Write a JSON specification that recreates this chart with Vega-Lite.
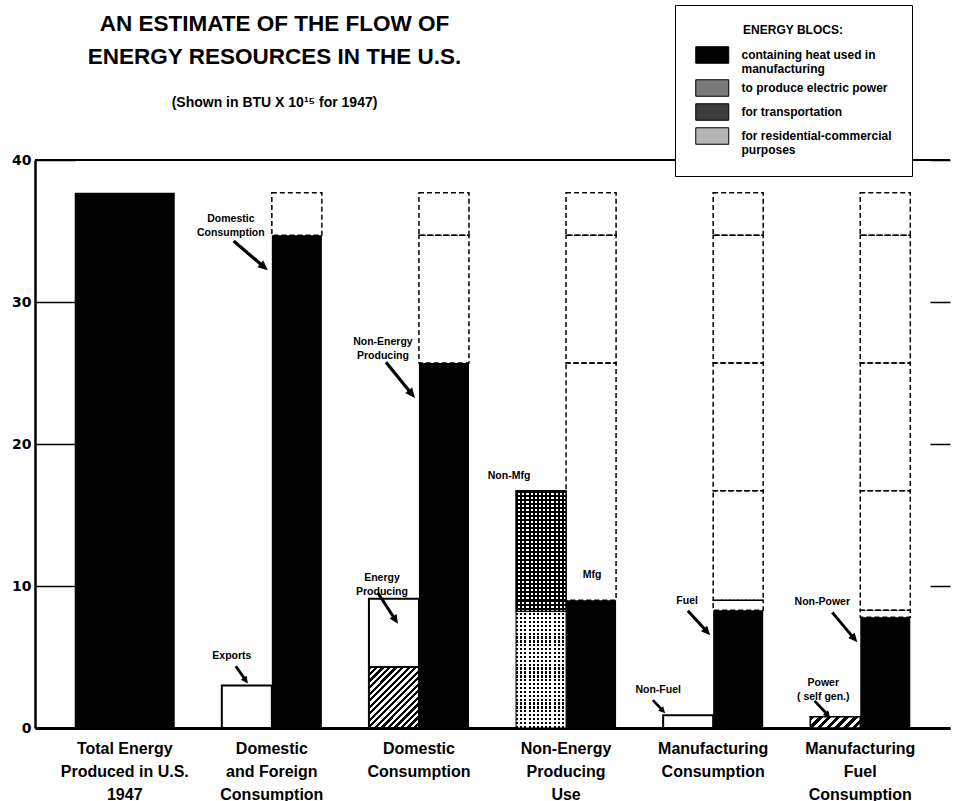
{
"$schema": "https://vega.github.io/schema/vega-lite/v6.json",
"width": 915, "height": 568,
"autosize": {"type": "none"},
"padding": {"left": 35, "top": 160, "right": 5, "bottom": 73},
"background": "white",
"title": {"text": ["AN ESTIMATE OF THE FLOW OF", "ENERGY RESOURCES IN THE U.S."], "subtitle": "(Shown in BTU X 10¹⁵ for 1947)", "anchor": "start", "align": "center", "dx": 263, "offset": -105, "font": "Liberation Sans", "fontSize": 22.5, "fontWeight": "bold", "lineHeight": 33, "color": "black", "subtitleFont": "Liberation Sans", "subtitleFontSize": 14, "subtitleFontWeight": "bold", "subtitleColor": "black", "subtitlePadding": 27},
"config": {
  "view": {"stroke": null},
  "font": "Liberation Sans",
  "text": {"font": "Liberation Sans", "fontWeight": "bold", "fontSize": 10.5, "lineHeight": 14, "baseline": "middle", "align": "center", "lineBreak": "|", "color": "black"},
  "axisX": {"domainColor": "black", "domainWidth": 3, "ticks": false, "labelFont": "Liberation Sans", "labelFontSize": 16, "labelFontWeight": "bold", "labelColor": "black", "labelPadding": 12, "labelAngle": 0, "labelLineHeight": 23, "labelBaseline": "top", "grid": false, "labelLimit": 300},
  "axisY": {"domainColor": "black", "domainWidth": 2.5, "ticks": false, "labelFont": "DejaVu Sans", "labelFontSize": 14, "labelFontWeight": "bold", "labelColor": "black", "labelPadding": 4, "grid": true, "gridColor": "black", "gridWidth": 1.5, "gridDash": [40, 855, 20]}
},
"data": {"values": [
  {"group": "Total Energy|Produced in U.S.|1947", "sub": "L", "kind": "total", "y0": 0, "y1": 37.7},
  {"group": "Domestic|and Foreign|Consumption", "sub": "L", "kind": "white", "y0": 0, "y1": 3.0, "label": "Exports"},
  {"group": "Domestic|and Foreign|Consumption", "sub": "R", "kind": "heat", "y0": 0, "y1": 34.7, "label": "Domestic|Consumption"},
  {"group": "Domestic|and Foreign|Consumption", "sub": "R", "kind": "ghost", "y0": 34.7, "y1": 37.7},
  {"group": "Domestic|Consumption", "sub": "L", "kind": "electric", "y0": 0, "y1": 4.3},
  {"group": "Domestic|Consumption", "sub": "L", "kind": "white", "y0": 4.3, "y1": 9.1, "label": "Energy|Producing"},
  {"group": "Domestic|Consumption", "sub": "R", "kind": "heat", "y0": 0, "y1": 25.7, "label": "Non-Energy|Producing"},
  {"group": "Domestic|Consumption", "sub": "R", "kind": "ghost", "y0": 25.7, "y1": 34.7},
  {"group": "Domestic|Consumption", "sub": "R", "kind": "ghost", "y0": 34.7, "y1": 37.7},
  {"group": "Non-Energy|Producing|Use", "sub": "L", "kind": "residential", "y0": 0, "y1": 8.2},
  {"group": "Non-Energy|Producing|Use", "sub": "L", "kind": "transport", "y0": 8.2, "y1": 16.7, "label": "Non-Mfg"},
  {"group": "Non-Energy|Producing|Use", "sub": "R", "kind": "heat", "y0": 0, "y1": 9.0, "label": "Mfg"},
  {"group": "Non-Energy|Producing|Use", "sub": "R", "kind": "ghost", "y0": 9.0, "y1": 25.7},
  {"group": "Non-Energy|Producing|Use", "sub": "R", "kind": "ghost", "y0": 25.7, "y1": 34.7},
  {"group": "Non-Energy|Producing|Use", "sub": "R", "kind": "ghost", "y0": 34.7, "y1": 37.7},
  {"group": "Manufacturing|Consumption", "sub": "L", "kind": "white", "y0": 0, "y1": 0.9, "label": "Non-Fuel"},
  {"group": "Manufacturing|Consumption", "sub": "R", "kind": "heat", "y0": 0, "y1": 8.3, "label": "Fuel"},
  {"group": "Manufacturing|Consumption", "sub": "R", "kind": "ghost", "y0": 8.3, "y1": 9.0},
  {"group": "Manufacturing|Consumption", "sub": "R", "kind": "ghost", "y0": 9.0, "y1": 16.7},
  {"group": "Manufacturing|Consumption", "sub": "R", "kind": "ghost", "y0": 16.7, "y1": 25.7},
  {"group": "Manufacturing|Consumption", "sub": "R", "kind": "ghost", "y0": 25.7, "y1": 34.7},
  {"group": "Manufacturing|Consumption", "sub": "R", "kind": "ghost", "y0": 34.7, "y1": 37.7},
  {"group": "Manufacturing|Fuel|Consumption", "sub": "L", "kind": "electric", "y0": 0, "y1": 0.8, "label": "Power|( self gen.)"},
  {"group": "Manufacturing|Fuel|Consumption", "sub": "R", "kind": "heat", "y0": 0, "y1": 7.8, "label": "Non-Power"},
  {"group": "Manufacturing|Fuel|Consumption", "sub": "R", "kind": "ghost", "y0": 7.8, "y1": 8.3},
  {"group": "Manufacturing|Fuel|Consumption", "sub": "R", "kind": "ghost", "y0": 8.3, "y1": 16.7},
  {"group": "Manufacturing|Fuel|Consumption", "sub": "R", "kind": "ghost", "y0": 16.7, "y1": 25.7},
  {"group": "Manufacturing|Fuel|Consumption", "sub": "R", "kind": "ghost", "y0": 25.7, "y1": 34.7},
  {"group": "Manufacturing|Fuel|Consumption", "sub": "R", "kind": "ghost", "y0": 34.7, "y1": 37.7}
]},
"encoding": {
  "y": {"field": "y1", "type": "quantitative", "title": null, "scale": {"domain": [0, 40], "nice": false}, "axis": {"values": [0, 10, 20, 30, 40]}}
},
"layer": [
  {"transform": [{"filter": "datum.kind == 'total'"}], "mark": {"type": "bar", "color": "black"},
   "encoding": {"x": {"field": "group", "type": "nominal", "title": null, "scale": {"domain": ["Total Energy|Produced in U.S.|1947", "Domestic|and Foreign|Consumption", "Domestic|Consumption", "Non-Energy|Producing|Use", "Manufacturing|Consumption", "Manufacturing|Fuel|Consumption"], "paddingInner": 0.32, "paddingOuter": 0.27}, "axis": {"labelExpr": "split(datum.label, '|')"}}, "y2": {"field": "y0"}}},
  {"mark": {"type": "rule", "color": "black", "strokeWidth": 2}, "encoding": {"y": {"datum": 40}}},
  {"encoding": {"x": {"field": "group", "type": "nominal", "title": null}, "xOffset": {"field": "sub", "type": "nominal", "scale": {"domain": ["L", "R"], "paddingInner": 0, "paddingOuter": 0}}},
   "layer": [
    {"transform": [{"filter": "datum.kind == 'ghost'"}], "mark": {"type": "bar", "filled": false, "stroke": "black", "strokeWidth": 1.5, "strokeDash": [5, 3]}, "encoding": {"y2": {"field": "y0"}}},
    {"transform": [{"filter": "indexof(['heat','electric','transport','residential'], datum.kind) >= 0"}], "mark": {"type": "bar"},
     "encoding": {"y2": {"field": "y0"},
      "fill": {"field": "kind", "type": "nominal", "scale": {"domain": ["heat", "electric", "transport", "residential"], "range": ["black", "#7a7a7a", "#3c3c3c", "#b4b4b4"]},
       "legend": {"orient": "none", "legendX": 640, "legendY": -155, "title": "ENERGY BLOCS:", "titleFont": "Liberation Sans", "titleFontSize": 12, "titleFontWeight": "bold", "titleColor": "black", "titleAnchor": "middle", "titlePadding": 9,
        "symbolType": "M-1,-1H3V1H-1Z", "symbolSize": 272.25, "symbolStrokeColor": "black", "symbolStrokeWidth": 1, "symbolOpacity": 1,
        "labelFont": "Liberation Sans", "labelFontSize": 12, "labelFontWeight": "bold", "labelColor": "black", "labelOffset": 28.5, "labelLimit": 400,
        "labelExpr": "datum.value == 'heat' ? ['containing heat used in', 'manufacturing'] : datum.value == 'electric' ? 'to produce electric power' : datum.value == 'transport' ? 'for transportation' : ['for residential-commercial', 'purposes']",
        "rowPadding": 2, "padding": 20, "strokeColor": "black", "fillColor": "white"}}}},
    {"transform": [{"filter": "datum.kind == 'white'"}], "mark": {"type": "bar", "fill": "white", "stroke": "black", "strokeWidth": 2}, "encoding": {"y2": {"field": "y0"}}},
    {"transform": [{"filter": "datum.kind == 'electric' && datum.y1 > 2"}], "mark": {"type": "bar", "stroke": "black", "strokeWidth": 2, "fill": {"gradient": "linear", "x1": 0, "y1": 0, "x2": 0.892, "y2": 1.088, "stops": [
      {"offset": 0, "color": "#000"}, {"offset": 0.0294, "color": "#000"}, {"offset": 0.0294, "color": "#fff"}, {"offset": 0.0588, "color": "#fff"},
      {"offset": 0.0588, "color": "#000"}, {"offset": 0.0882, "color": "#000"}, {"offset": 0.0882, "color": "#fff"}, {"offset": 0.1176, "color": "#fff"},
      {"offset": 0.1176, "color": "#000"}, {"offset": 0.1471, "color": "#000"}, {"offset": 0.1471, "color": "#fff"}, {"offset": 0.1765, "color": "#fff"},
      {"offset": 0.1765, "color": "#000"}, {"offset": 0.2059, "color": "#000"}, {"offset": 0.2059, "color": "#fff"}, {"offset": 0.2353, "color": "#fff"},
      {"offset": 0.2353, "color": "#000"}, {"offset": 0.2647, "color": "#000"}, {"offset": 0.2647, "color": "#fff"}, {"offset": 0.2941, "color": "#fff"},
      {"offset": 0.2941, "color": "#000"}, {"offset": 0.3235, "color": "#000"}, {"offset": 0.3235, "color": "#fff"}, {"offset": 0.3529, "color": "#fff"},
      {"offset": 0.3529, "color": "#000"}, {"offset": 0.3824, "color": "#000"}, {"offset": 0.3824, "color": "#fff"}, {"offset": 0.4118, "color": "#fff"},
      {"offset": 0.4118, "color": "#000"}, {"offset": 0.4412, "color": "#000"}, {"offset": 0.4412, "color": "#fff"}, {"offset": 0.4706, "color": "#fff"},
      {"offset": 0.4706, "color": "#000"}, {"offset": 0.5, "color": "#000"}, {"offset": 0.5, "color": "#fff"}, {"offset": 0.5294, "color": "#fff"},
      {"offset": 0.5294, "color": "#000"}, {"offset": 0.5588, "color": "#000"}, {"offset": 0.5588, "color": "#fff"}, {"offset": 0.5882, "color": "#fff"},
      {"offset": 0.5882, "color": "#000"}, {"offset": 0.6176, "color": "#000"}, {"offset": 0.6176, "color": "#fff"}, {"offset": 0.6471, "color": "#fff"},
      {"offset": 0.6471, "color": "#000"}, {"offset": 0.6765, "color": "#000"}, {"offset": 0.6765, "color": "#fff"}, {"offset": 0.7059, "color": "#fff"},
      {"offset": 0.7059, "color": "#000"}, {"offset": 0.7353, "color": "#000"}, {"offset": 0.7353, "color": "#fff"}, {"offset": 0.7647, "color": "#fff"},
      {"offset": 0.7647, "color": "#000"}, {"offset": 0.7941, "color": "#000"}, {"offset": 0.7941, "color": "#fff"}, {"offset": 0.8235, "color": "#fff"},
      {"offset": 0.8235, "color": "#000"}, {"offset": 0.8529, "color": "#000"}, {"offset": 0.8529, "color": "#fff"}, {"offset": 0.8824, "color": "#fff"},
      {"offset": 0.8824, "color": "#000"}, {"offset": 0.9118, "color": "#000"}, {"offset": 0.9118, "color": "#fff"}, {"offset": 0.9412, "color": "#fff"},
      {"offset": 0.9412, "color": "#000"}, {"offset": 0.9706, "color": "#000"}, {"offset": 0.9706, "color": "#fff"}, {"offset": 1, "color": "#fff"}]}}, "encoding": {"y2": {"field": "y0"}}},
    {"transform": [{"filter": "datum.kind == 'electric' && datum.y1 <= 2"}], "mark": {"type": "bar", "stroke": "black", "strokeWidth": 1.5, "fill": {"gradient": "linear", "x1": 0, "y1": 0, "x2": 1.167, "y2": 0.266, "stops": [
      {"offset": 0, "color": "#000"}, {"offset": 0.0714, "color": "#000"}, {"offset": 0.0714, "color": "#fff"}, {"offset": 0.1429, "color": "#fff"},
      {"offset": 0.1429, "color": "#000"}, {"offset": 0.2143, "color": "#000"}, {"offset": 0.2143, "color": "#fff"}, {"offset": 0.2857, "color": "#fff"},
      {"offset": 0.2857, "color": "#000"}, {"offset": 0.3571, "color": "#000"}, {"offset": 0.3571, "color": "#fff"}, {"offset": 0.4286, "color": "#fff"},
      {"offset": 0.4286, "color": "#000"}, {"offset": 0.5, "color": "#000"}, {"offset": 0.5, "color": "#fff"}, {"offset": 0.5714, "color": "#fff"},
      {"offset": 0.5714, "color": "#000"}, {"offset": 0.6429, "color": "#000"}, {"offset": 0.6429, "color": "#fff"}, {"offset": 0.7143, "color": "#fff"},
      {"offset": 0.7143, "color": "#000"}, {"offset": 0.7857, "color": "#000"}, {"offset": 0.7857, "color": "#fff"}, {"offset": 0.8571, "color": "#fff"},
      {"offset": 0.8571, "color": "#000"}, {"offset": 0.9286, "color": "#000"}, {"offset": 0.9286, "color": "#fff"}, {"offset": 1, "color": "#fff"}]}}, "encoding": {"y2": {"field": "y0"}}},
    {"transform": [{"filter": "datum.kind == 'transport' || datum.kind == 'residential'"}], "mark": {"type": "bar", "fill": {"gradient": "linear", "x1": 0, "y1": 0, "x2": 1, "y2": 0, "stops": [
      {"offset": 0, "color": "#000"}, {"offset": 0.0417, "color": "#000"}, {"offset": 0.0417, "color": "#fff"}, {"offset": 0.0833, "color": "#fff"},
      {"offset": 0.0833, "color": "#000"}, {"offset": 0.125, "color": "#000"}, {"offset": 0.125, "color": "#fff"}, {"offset": 0.1667, "color": "#fff"},
      {"offset": 0.1667, "color": "#000"}, {"offset": 0.2083, "color": "#000"}, {"offset": 0.2083, "color": "#fff"}, {"offset": 0.25, "color": "#fff"},
      {"offset": 0.25, "color": "#000"}, {"offset": 0.2917, "color": "#000"}, {"offset": 0.2917, "color": "#fff"}, {"offset": 0.3333, "color": "#fff"},
      {"offset": 0.3333, "color": "#000"}, {"offset": 0.375, "color": "#000"}, {"offset": 0.375, "color": "#fff"}, {"offset": 0.4167, "color": "#fff"},
      {"offset": 0.4167, "color": "#000"}, {"offset": 0.4583, "color": "#000"}, {"offset": 0.4583, "color": "#fff"}, {"offset": 0.5, "color": "#fff"},
      {"offset": 0.5, "color": "#000"}, {"offset": 0.5417, "color": "#000"}, {"offset": 0.5417, "color": "#fff"}, {"offset": 0.5833, "color": "#fff"},
      {"offset": 0.5833, "color": "#000"}, {"offset": 0.625, "color": "#000"}, {"offset": 0.625, "color": "#fff"}, {"offset": 0.6667, "color": "#fff"},
      {"offset": 0.6667, "color": "#000"}, {"offset": 0.7083, "color": "#000"}, {"offset": 0.7083, "color": "#fff"}, {"offset": 0.75, "color": "#fff"},
      {"offset": 0.75, "color": "#000"}, {"offset": 0.7917, "color": "#000"}, {"offset": 0.7917, "color": "#fff"}, {"offset": 0.8333, "color": "#fff"},
      {"offset": 0.8333, "color": "#000"}, {"offset": 0.875, "color": "#000"}, {"offset": 0.875, "color": "#fff"}, {"offset": 0.9167, "color": "#fff"},
      {"offset": 0.9167, "color": "#000"}, {"offset": 0.9583, "color": "#000"}, {"offset": 0.9583, "color": "#fff"}, {"offset": 1, "color": "#fff"}]}}, "encoding": {"y2": {"field": "y0"}}},
    {"transform": [{"filter": "datum.kind == 'transport'"}], "mark": {"type": "bar", "stroke": "black", "strokeWidth": 1.5, "fill": {"gradient": "linear", "x1": 0, "y1": 0, "x2": 0, "y2": 1, "stops": [
      {"offset": 0, "color": "#000"}, {"offset": 0.0167, "color": "#000"}, {"offset": 0.0167, "color": "transparent"}, {"offset": 0.0333, "color": "transparent"},
      {"offset": 0.0333, "color": "#000"}, {"offset": 0.05, "color": "#000"}, {"offset": 0.05, "color": "transparent"}, {"offset": 0.0667, "color": "transparent"},
      {"offset": 0.0667, "color": "#000"}, {"offset": 0.0833, "color": "#000"}, {"offset": 0.0833, "color": "transparent"}, {"offset": 0.1, "color": "transparent"},
      {"offset": 0.1, "color": "#000"}, {"offset": 0.1167, "color": "#000"}, {"offset": 0.1167, "color": "transparent"}, {"offset": 0.1333, "color": "transparent"},
      {"offset": 0.1333, "color": "#000"}, {"offset": 0.15, "color": "#000"}, {"offset": 0.15, "color": "transparent"}, {"offset": 0.1667, "color": "transparent"},
      {"offset": 0.1667, "color": "#000"}, {"offset": 0.1833, "color": "#000"}, {"offset": 0.1833, "color": "transparent"}, {"offset": 0.2, "color": "transparent"},
      {"offset": 0.2, "color": "#000"}, {"offset": 0.2167, "color": "#000"}, {"offset": 0.2167, "color": "transparent"}, {"offset": 0.2333, "color": "transparent"},
      {"offset": 0.2333, "color": "#000"}, {"offset": 0.25, "color": "#000"}, {"offset": 0.25, "color": "transparent"}, {"offset": 0.2667, "color": "transparent"},
      {"offset": 0.2667, "color": "#000"}, {"offset": 0.2833, "color": "#000"}, {"offset": 0.2833, "color": "transparent"}, {"offset": 0.3, "color": "transparent"},
      {"offset": 0.3, "color": "#000"}, {"offset": 0.3167, "color": "#000"}, {"offset": 0.3167, "color": "transparent"}, {"offset": 0.3333, "color": "transparent"},
      {"offset": 0.3333, "color": "#000"}, {"offset": 0.35, "color": "#000"}, {"offset": 0.35, "color": "transparent"}, {"offset": 0.3667, "color": "transparent"},
      {"offset": 0.3667, "color": "#000"}, {"offset": 0.3833, "color": "#000"}, {"offset": 0.3833, "color": "transparent"}, {"offset": 0.4, "color": "transparent"},
      {"offset": 0.4, "color": "#000"}, {"offset": 0.4167, "color": "#000"}, {"offset": 0.4167, "color": "transparent"}, {"offset": 0.4333, "color": "transparent"},
      {"offset": 0.4333, "color": "#000"}, {"offset": 0.45, "color": "#000"}, {"offset": 0.45, "color": "transparent"}, {"offset": 0.4667, "color": "transparent"},
      {"offset": 0.4667, "color": "#000"}, {"offset": 0.4833, "color": "#000"}, {"offset": 0.4833, "color": "transparent"}, {"offset": 0.5, "color": "transparent"},
      {"offset": 0.5, "color": "#000"}, {"offset": 0.5167, "color": "#000"}, {"offset": 0.5167, "color": "transparent"}, {"offset": 0.5333, "color": "transparent"},
      {"offset": 0.5333, "color": "#000"}, {"offset": 0.55, "color": "#000"}, {"offset": 0.55, "color": "transparent"}, {"offset": 0.5667, "color": "transparent"},
      {"offset": 0.5667, "color": "#000"}, {"offset": 0.5833, "color": "#000"}, {"offset": 0.5833, "color": "transparent"}, {"offset": 0.6, "color": "transparent"},
      {"offset": 0.6, "color": "#000"}, {"offset": 0.6167, "color": "#000"}, {"offset": 0.6167, "color": "transparent"}, {"offset": 0.6333, "color": "transparent"},
      {"offset": 0.6333, "color": "#000"}, {"offset": 0.65, "color": "#000"}, {"offset": 0.65, "color": "transparent"}, {"offset": 0.6667, "color": "transparent"},
      {"offset": 0.6667, "color": "#000"}, {"offset": 0.6833, "color": "#000"}, {"offset": 0.6833, "color": "transparent"}, {"offset": 0.7, "color": "transparent"},
      {"offset": 0.7, "color": "#000"}, {"offset": 0.7167, "color": "#000"}, {"offset": 0.7167, "color": "transparent"}, {"offset": 0.7333, "color": "transparent"},
      {"offset": 0.7333, "color": "#000"}, {"offset": 0.75, "color": "#000"}, {"offset": 0.75, "color": "transparent"}, {"offset": 0.7667, "color": "transparent"},
      {"offset": 0.7667, "color": "#000"}, {"offset": 0.7833, "color": "#000"}, {"offset": 0.7833, "color": "transparent"}, {"offset": 0.8, "color": "transparent"},
      {"offset": 0.8, "color": "#000"}, {"offset": 0.8167, "color": "#000"}, {"offset": 0.8167, "color": "transparent"}, {"offset": 0.8333, "color": "transparent"},
      {"offset": 0.8333, "color": "#000"}, {"offset": 0.85, "color": "#000"}, {"offset": 0.85, "color": "transparent"}, {"offset": 0.8667, "color": "transparent"},
      {"offset": 0.8667, "color": "#000"}, {"offset": 0.8833, "color": "#000"}, {"offset": 0.8833, "color": "transparent"}, {"offset": 0.9, "color": "transparent"},
      {"offset": 0.9, "color": "#000"}, {"offset": 0.9167, "color": "#000"}, {"offset": 0.9167, "color": "transparent"}, {"offset": 0.9333, "color": "transparent"},
      {"offset": 0.9333, "color": "#000"}, {"offset": 0.95, "color": "#000"}, {"offset": 0.95, "color": "transparent"}, {"offset": 0.9667, "color": "transparent"},
      {"offset": 0.9667, "color": "#000"}, {"offset": 0.9833, "color": "#000"}, {"offset": 0.9833, "color": "transparent"}, {"offset": 1, "color": "transparent"}]}}, "encoding": {"y2": {"field": "y0"}}},
    {"transform": [{"filter": "datum.kind == 'residential'"}], "mark": {"type": "bar", "stroke": "black", "strokeWidth": 1, "fill": {"gradient": "linear", "x1": 0, "y1": 0, "x2": 0, "y2": 1, "stops": [
      {"offset": 0, "color": "#fff"}, {"offset": 0.0133, "color": "#fff"}, {"offset": 0.0133, "color": "transparent"}, {"offset": 0.0333, "color": "transparent"},
      {"offset": 0.0333, "color": "#fff"}, {"offset": 0.0467, "color": "#fff"}, {"offset": 0.0467, "color": "transparent"}, {"offset": 0.0667, "color": "transparent"},
      {"offset": 0.0667, "color": "#fff"}, {"offset": 0.08, "color": "#fff"}, {"offset": 0.08, "color": "transparent"}, {"offset": 0.1, "color": "transparent"},
      {"offset": 0.1, "color": "#fff"}, {"offset": 0.1133, "color": "#fff"}, {"offset": 0.1133, "color": "transparent"}, {"offset": 0.1333, "color": "transparent"},
      {"offset": 0.1333, "color": "#fff"}, {"offset": 0.1467, "color": "#fff"}, {"offset": 0.1467, "color": "transparent"}, {"offset": 0.1667, "color": "transparent"},
      {"offset": 0.1667, "color": "#fff"}, {"offset": 0.18, "color": "#fff"}, {"offset": 0.18, "color": "transparent"}, {"offset": 0.2, "color": "transparent"},
      {"offset": 0.2, "color": "#fff"}, {"offset": 0.2133, "color": "#fff"}, {"offset": 0.2133, "color": "transparent"}, {"offset": 0.2333, "color": "transparent"},
      {"offset": 0.2333, "color": "#fff"}, {"offset": 0.2467, "color": "#fff"}, {"offset": 0.2467, "color": "transparent"}, {"offset": 0.2667, "color": "transparent"},
      {"offset": 0.2667, "color": "#fff"}, {"offset": 0.28, "color": "#fff"}, {"offset": 0.28, "color": "transparent"}, {"offset": 0.3, "color": "transparent"},
      {"offset": 0.3, "color": "#fff"}, {"offset": 0.3133, "color": "#fff"}, {"offset": 0.3133, "color": "transparent"}, {"offset": 0.3333, "color": "transparent"},
      {"offset": 0.3333, "color": "#fff"}, {"offset": 0.3467, "color": "#fff"}, {"offset": 0.3467, "color": "transparent"}, {"offset": 0.3667, "color": "transparent"},
      {"offset": 0.3667, "color": "#fff"}, {"offset": 0.38, "color": "#fff"}, {"offset": 0.38, "color": "transparent"}, {"offset": 0.4, "color": "transparent"},
      {"offset": 0.4, "color": "#fff"}, {"offset": 0.4133, "color": "#fff"}, {"offset": 0.4133, "color": "transparent"}, {"offset": 0.4333, "color": "transparent"},
      {"offset": 0.4333, "color": "#fff"}, {"offset": 0.4467, "color": "#fff"}, {"offset": 0.4467, "color": "transparent"}, {"offset": 0.4667, "color": "transparent"},
      {"offset": 0.4667, "color": "#fff"}, {"offset": 0.48, "color": "#fff"}, {"offset": 0.48, "color": "transparent"}, {"offset": 0.5, "color": "transparent"},
      {"offset": 0.5, "color": "#fff"}, {"offset": 0.5133, "color": "#fff"}, {"offset": 0.5133, "color": "transparent"}, {"offset": 0.5333, "color": "transparent"},
      {"offset": 0.5333, "color": "#fff"}, {"offset": 0.5467, "color": "#fff"}, {"offset": 0.5467, "color": "transparent"}, {"offset": 0.5667, "color": "transparent"},
      {"offset": 0.5667, "color": "#fff"}, {"offset": 0.58, "color": "#fff"}, {"offset": 0.58, "color": "transparent"}, {"offset": 0.6, "color": "transparent"},
      {"offset": 0.6, "color": "#fff"}, {"offset": 0.6133, "color": "#fff"}, {"offset": 0.6133, "color": "transparent"}, {"offset": 0.6333, "color": "transparent"},
      {"offset": 0.6333, "color": "#fff"}, {"offset": 0.6467, "color": "#fff"}, {"offset": 0.6467, "color": "transparent"}, {"offset": 0.6667, "color": "transparent"},
      {"offset": 0.6667, "color": "#fff"}, {"offset": 0.68, "color": "#fff"}, {"offset": 0.68, "color": "transparent"}, {"offset": 0.7, "color": "transparent"},
      {"offset": 0.7, "color": "#fff"}, {"offset": 0.7133, "color": "#fff"}, {"offset": 0.7133, "color": "transparent"}, {"offset": 0.7333, "color": "transparent"},
      {"offset": 0.7333, "color": "#fff"}, {"offset": 0.7467, "color": "#fff"}, {"offset": 0.7467, "color": "transparent"}, {"offset": 0.7667, "color": "transparent"},
      {"offset": 0.7667, "color": "#fff"}, {"offset": 0.78, "color": "#fff"}, {"offset": 0.78, "color": "transparent"}, {"offset": 0.8, "color": "transparent"},
      {"offset": 0.8, "color": "#fff"}, {"offset": 0.8133, "color": "#fff"}, {"offset": 0.8133, "color": "transparent"}, {"offset": 0.8333, "color": "transparent"},
      {"offset": 0.8333, "color": "#fff"}, {"offset": 0.8467, "color": "#fff"}, {"offset": 0.8467, "color": "transparent"}, {"offset": 0.8667, "color": "transparent"},
      {"offset": 0.8667, "color": "#fff"}, {"offset": 0.88, "color": "#fff"}, {"offset": 0.88, "color": "transparent"}, {"offset": 0.9, "color": "transparent"},
      {"offset": 0.9, "color": "#fff"}, {"offset": 0.9133, "color": "#fff"}, {"offset": 0.9133, "color": "transparent"}, {"offset": 0.9333, "color": "transparent"},
      {"offset": 0.9333, "color": "#fff"}, {"offset": 0.9467, "color": "#fff"}, {"offset": 0.9467, "color": "transparent"}, {"offset": 0.9667, "color": "transparent"},
      {"offset": 0.9667, "color": "#fff"}, {"offset": 0.98, "color": "#fff"}, {"offset": 0.98, "color": "transparent"}, {"offset": 1, "color": "transparent"}]}}, "encoding": {"y2": {"field": "y0"}}},
    {"transform": [{"filter": "datum.label == 'Domestic|Consumption'"}], "mark": {"type": "text", "dx": -66, "dy": -16}, "encoding": {"text": {"field": "label"}}},
    {"transform": [{"filter": "datum.label == 'Exports'"}], "mark": {"type": "text", "dx": -15, "dy": -29}, "encoding": {"text": {"field": "label"}}},
    {"transform": [{"filter": "datum.label == 'Non-Energy|Producing'"}], "mark": {"type": "text", "dx": -61, "dy": -21}, "encoding": {"text": {"field": "label"}}},
    {"transform": [{"filter": "datum.label == 'Energy|Producing'"}], "mark": {"type": "text", "dx": -12, "dy": -21}, "encoding": {"text": {"field": "label"}}},
    {"transform": [{"filter": "datum.label == 'Non-Mfg'"}], "mark": {"type": "text", "dx": -32, "dy": -15}, "encoding": {"text": {"field": "label"}}},
    {"transform": [{"filter": "datum.label == 'Mfg'"}], "mark": {"type": "text", "dx": 1, "dy": -25}, "encoding": {"text": {"field": "label"}}},
    {"transform": [{"filter": "datum.label == 'Fuel'"}], "mark": {"type": "text", "dx": -51, "dy": -9}, "encoding": {"text": {"field": "label"}}},
    {"transform": [{"filter": "datum.label == 'Non-Fuel'"}], "mark": {"type": "text", "dx": -30, "dy": -25}, "encoding": {"text": {"field": "label"}}},
    {"transform": [{"filter": "datum.label == 'Non-Power'"}], "mark": {"type": "text", "dx": -63, "dy": -15}, "encoding": {"text": {"field": "label"}}},
    {"transform": [{"filter": "datum.label == 'Power|( self gen.)'"}], "mark": {"type": "text", "dx": -12, "dy": -34}, "encoding": {"text": {"field": "label"}}},
    {"transform": [{"filter": "datum.label == 'Domestic|Consumption'"}], "mark": {"type": "point", "shape": "M-29,35L-39.52,31.93L-37.64,29.73L-64.24,7.02L-62.16,4.58L-35.56,27.29L-33.68,25.09Z", "size": 4, "filled": true, "fill": "black", "strokeWidth": 0, "opacity": 1}},
    {"transform": [{"filter": "datum.label == 'Non-Energy|Producing'"}], "mark": {"type": "point", "shape": "M-29,35L-38.79,30.06L-36.53,28.24L-59.17,0.27L-56.69,-1.75L-34.05,26.22L-31.79,24.4Z", "size": 4, "filled": true, "fill": "black", "strokeWidth": 0, "opacity": 1}},
    {"transform": [{"filter": "datum.label == 'Fuel'"}], "mark": {"type": "point", "shape": "M-28,25L-37.18,21.21L-35.19,19.38L-51.42,1.69L-49.2,-0.33L-32.97,17.36L-30.98,15.53Z", "size": 4, "filled": true, "fill": "black", "strokeWidth": 0, "opacity": 1}},
    {"transform": [{"filter": "datum.label == 'Non-Power'"}], "mark": {"type": "point", "shape": "M-28,25L-37.01,20.81L-34.94,19.07L-54.23,-3.91L-51.93,-5.83L-32.64,17.15L-30.57,15.41Z", "size": 4, "filled": true, "fill": "black", "strokeWidth": 0, "opacity": 1}},
    {"transform": [{"filter": "datum.label == 'Energy|Producing'"}], "mark": {"type": "point", "shape": "M4,25L-4.42,19.74L-2.16,18.27L-17.43,-5.22L-14.91,-6.86L0.36,16.63L2.62,15.16Z", "size": 4, "filled": true, "fill": "black", "strokeWidth": 0, "opacity": 1}},
    {"transform": [{"filter": "datum.label == 'Exports'"}], "mark": {"type": "point", "shape": "M1,-2L-5.89,-5.72L-4.17,-6.93L-12.2,-18.4L-9.9,-20L-1.87,-8.53L-0.15,-9.74Z", "size": 4, "filled": true, "fill": "black", "strokeWidth": 0, "opacity": 1}},
    {"transform": [{"filter": "datum.label == 'Non-Fuel'"}], "mark": {"type": "point", "shape": "M-23,-2L-29.84,-4.5L-28.38,-5.86L-36.23,-14.27L-34.33,-16.05L-26.48,-7.64L-25.02,-9Z", "size": 4, "filled": true, "fill": "black", "strokeWidth": 0, "opacity": 1}},
    {"transform": [{"filter": "datum.label == 'Power|( self gen.)'"}], "mark": {"type": "point", "shape": "M-5,1L-12.33,-1.73L-10.79,-3.17L-21.71,-14.86L-19.67,-16.76L-8.75,-5.07L-7.21,-6.51Z", "size": 4, "filled": true, "fill": "black", "strokeWidth": 0, "opacity": 1}}
   ]}
]
}
